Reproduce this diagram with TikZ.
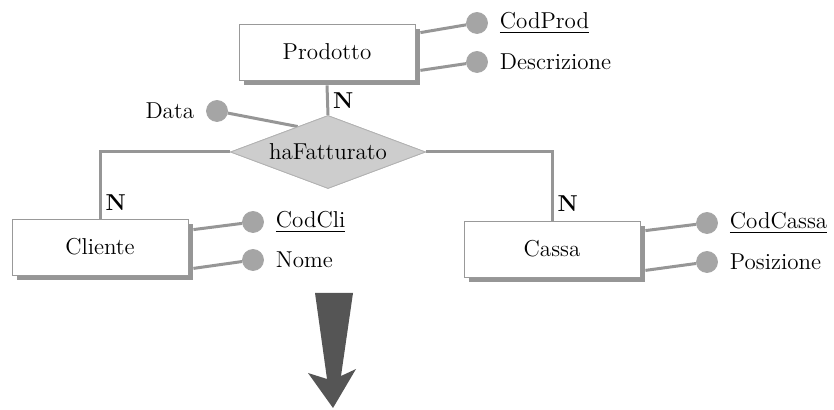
\documentclass[tikz,border=0pt]{standalone}
\usepackage{tikz}
\usetikzlibrary{shapes.geometric}
\usetikzlibrary{shadows}
\definecolor{linkgray}{RGB}{150,150,150}
\definecolor{dotgray}{RGB}{165,165,165}
\definecolor{relgray}{RGB}{205,205,205}
\definecolor{arrowgray}{RGB}{85,85,85}
\newcommand{\widthentity}{88pt}
\newcommand{\heightentity}{28pt}
\newcommand{\key}[1]{\underline{#1}}
\tikzset{
    entity/.style={draw=gray!80, fill=white, rectangle, minimum width=\widthentity, minimum height=\heightentity,
        drop shadow={shadow xshift=2.5pt, shadow yshift=-2.5pt, fill=linkgray, opacity=1}},
    relship/.style={diamond, draw=gray!60, fill=relgray, inner sep=0pt, aspect=2.7,
        minimum width=97.5pt, minimum height=36.5pt},
    attr/.style={circle, draw=gray!70, fill=dotgray, minimum size=10.5pt, inner sep=0pt},
    attrlabel/.style={label distance=2.5pt},
    link/.style={draw=linkgray, line width=1.5pt},
    card/.style={font=\fontsize{11.5}{14}\bfseries\selectfont, inner sep=2pt}
}
\begin{document}
\begin{tikzpicture}[x=0.5pt, y=-0.5pt, font=\fontsize{11.5}{14}\selectfont]
    \useasboundingbox (0,0) rectangle (834,410);

    \node[attr, label={[attrlabel]right:\key{CodProd}}] (codprod) at (477,23) {};
    \node[attr, label={[attrlabel]right:Descrizione}] (descr) at (477,62) {};
    \node[attr, label={[attrlabel]left:Data}] (data) at (217,111) {};
    \node[attr, label={[attrlabel]right:\key{CodCli}}] (codcli) at (253,222) {};
    \node[attr, label={[attrlabel]right:Nome}] (nome) at (253,260) {};
    \node[attr, label={[attrlabel]right:\key{CodCassa}}] (codcassa) at (707,223) {};
    \node[attr, label={[attrlabel]right:Posizione}] (posiz) at (707,262) {};

    \node[entity] (prod) at (327,52) {Prodotto};
    \node[entity] (cli) at (100,247) {Cliente};
    \node[entity] (cassa) at (552,249) {Cassa};

    \draw[link] ([xshift=2.5pt, yshift=-4.5pt]prod.north east) -- (codprod);
    \draw[link] ([xshift=2.5pt, yshift=5pt]prod.south east) -- (descr);
    \draw[link] ([xshift=2.5pt, yshift=-5.5pt]cli.north east) -- (codcli);
    \draw[link] ([xshift=2.5pt, yshift=3.5pt]cli.south east) -- (nome);
    \draw[link] ([xshift=2.5pt, yshift=-5pt]cassa.north east) -- (codcassa);
    \draw[link] ([xshift=2.5pt, yshift=3.5pt]cassa.south east) -- (posiz);

    \node[relship] (rel) at (328,152) {};
    \draw[link] ([yshift=-2.5pt]prod.south) -- node[card, right] (nprod) {N} (rel.north);
    \draw[link] (data) -- (rel.140);
    \draw[link] (rel.west) -| node[card, right, pos=0.877] (ncli) {N} (cli.north);
    \draw[link] (rel.east) -| node[card, right, pos=0.877] (ncassa) {N} (cassa.north);
    \node[relship] (relfront) at (rel) {haFatturato};

    \fill[arrowgray] (315,293) -- (353,293) -- (341,376) -- (356,369) -- (333,408)
        -- (308,373) -- (327,379) -- cycle;
\end{tikzpicture}
\end{document}
